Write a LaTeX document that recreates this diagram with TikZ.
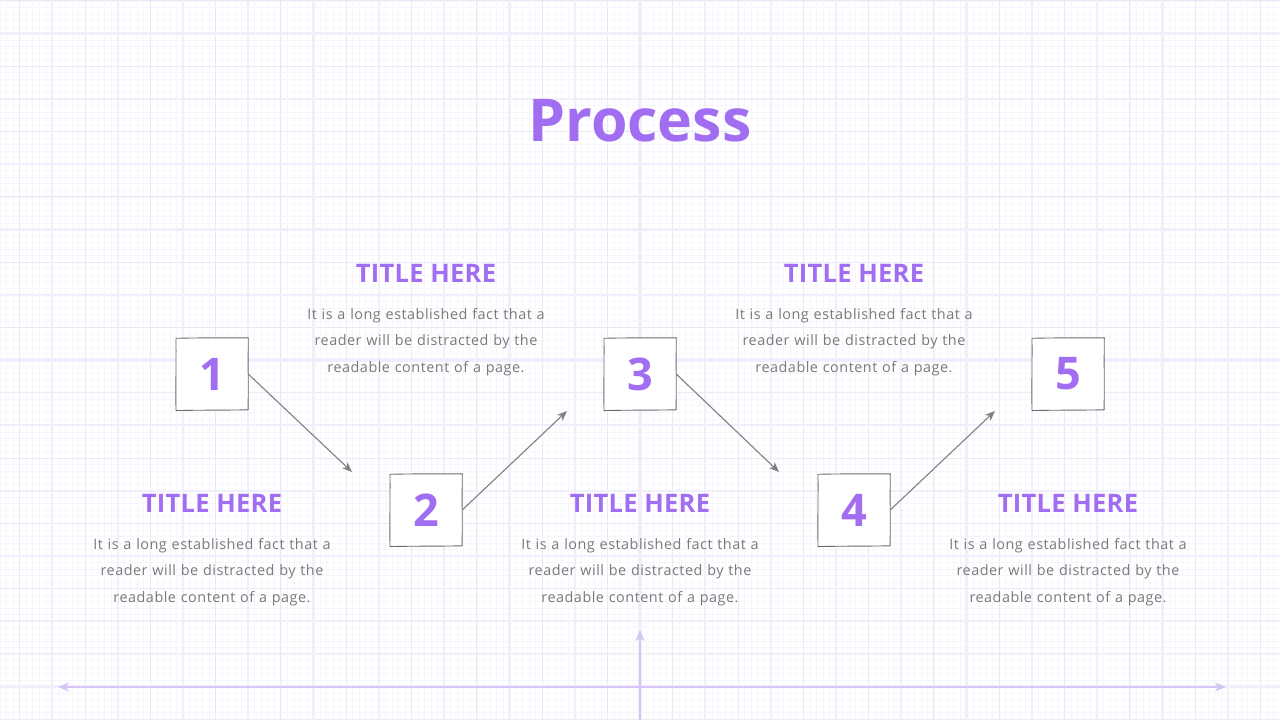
\documentclass[tikz,border=0pt]{standalone}
\usepackage{fontspec}
\setmainfont{Open Sans}
\usetikzlibrary{arrows.meta,calc}
\definecolor{purp}{HTML}{A26EF1}
\definecolor{bodygray}{HTML}{7A7A7A}
\definecolor{finegrid}{HTML}{F7F6FD}
\definecolor{midgrid}{HTML}{EBE9F5}
\definecolor{majgrid}{HTML}{F2EFFD}
\definecolor{axisgrid}{HTML}{F4ECFD}
\definecolor{axiscol}{HTML}{D6C6F8}
\definecolor{boxline}{HTML}{6A6A6A}
\definecolor{conncol}{HTML}{808080}
\tikzset{
  fineline/.style={draw=finegrid, line width=0.5pt},
  midline/.style={draw=midgrid, line width=0.8pt},
  majline/.style={draw=majgrid, line width=2.2pt},
  axline/.style={draw=axisgrid, line width=4pt},
  axisarrow/.style={draw=axiscol, line width=1.3pt},
  numbox/.style={minimum width=72pt, minimum height=72pt, inner sep=0pt, draw=none,
     font=\fontsize{45}{45}\selectfont\bfseries, text=purp},
  handbox/.style={draw=boxline, line width=0.9pt, fill=white, line join=round},
  conn/.style={draw=conncol, line width=1.1pt, -{Stealth[length=10pt,width=8pt,inset=3pt]}},
  ttl/.style={font=\fontsize{25.5}{25.5}\selectfont\bfseries\addfontfeatures{LetterSpace=1}, text=purp, inner sep=0pt},
  bodytext/.style={font=\fontsize{14.4}{26.5}\selectfont\addfontfeatures{LetterSpace=3.5}, text=bodygray, align=center, inner sep=0pt, text width=300pt},
  headline/.style={font=\fontsize{59}{59}\selectfont\bfseries, text=purp, inner sep=0pt}
}
\begin{document}
\begin{tikzpicture}[x=1pt,y=-1pt]
\useasboundingbox (0,0) rectangle (1280,720);
\fill[white] (0,0) rectangle (1280,720);
% fine grid
\foreach \i in {-98,...,98} { \draw[fineline] ({640+\i*6.53},0) -- ++(0,720); }
\foreach \i in {-56,...,56} { \draw[fineline] (0,{360+\i*6.53}) -- ++(1280,0); }
% medium grid
\foreach \i in {-10,...,9} { \draw[midline] ({640+32.65+\i*65.3},0) -- ++(0,720); }
\foreach \i in {-6,...,5} { \draw[midline] (0,{360+32.65+\i*65.3}) -- ++(1280,0); }
% major grid
\foreach \i in {-10,...,10} { \draw[majline] ({640+\i*65.3},0) -- ++(0,720); }
\foreach \i in {-6,...,6} { \draw[majline] (0,{360+\i*65.3}) -- ++(1280,0); }
% central axes
\draw[axline] (640,0) -- (640,720);
\draw[axline] (0,360) -- (1280,360);
% bottom axis arrows
\coordinate (axL) at (58,687);
\coordinate (axR) at (1226,687);
\coordinate (axB) at (640,720);
\coordinate (axT) at (640,630);
\draw[axisarrow, {Stealth[length=11pt,width=9pt,inset=3pt]}-{Stealth[length=11pt,width=9pt,inset=3pt]}] (axL) -- (axR);
\draw[axisarrow, -{Stealth[length=11pt,width=9pt,inset=3pt]}] (axB) -- (axT);

% heading
\node[headline] (head) at (640,121) {Process};

% boxes
\foreach \n/\x/\y in {1/212/374, 2/426/510, 3/640/374, 4/854/510, 5/1068/374} {
  \coordinate (c\n) at (\x,\y);
  \draw[handbox] ($(c\n)+(-36,-35.7)$) .. controls ($(c\n)+(-10,-36.4)$) and ($(c\n)+(15,-35.9)$) .. ($(c\n)+(36.3,-36.2)$)
     .. controls ($(c\n)+(36.0,-12)$) and ($(c\n)+(36.4,14)$) .. ($(c\n)+(36.1,35.8)$)
     .. controls ($(c\n)+(12,36.3)$) and ($(c\n)+(-14,36.0)$) .. ($(c\n)+(-36,36.6)$)
     .. controls ($(c\n)+(-36.3,12)$) and ($(c\n)+(-35.8,-14)$) .. cycle;
  \node[numbox] (b\n) at (c\n) {\n};
}

% connectors
\coordinate (e1) at (352,472);
\coordinate (e2) at (567,411);
\coordinate (e3) at (779,472);
\coordinate (e4) at (995,411);
\draw[conn] (b1.east) -- (e1);
\draw[conn] (b2.east) -- (e2);
\draw[conn] (b3.east) -- (e3);
\draw[conn] (b4.east) -- (e4);

% titles and texts
\node[ttl] (t2) at (426,273) {TITLE HERE};
\node[ttl] (t4) at (854,273) {TITLE HERE};
\node[ttl] (t1) at (212,503) {TITLE HERE};
\node[ttl] (t3) at (640,503) {TITLE HERE};
\node[ttl] (t5) at (1068,503) {TITLE HERE};
\node[bodytext] (d2) at (426,342) {It is a long established fact that a\\reader will be distracted by the\\readable content of a page.};
\node[bodytext] (d4) at (854,342) {It is a long established fact that a\\reader will be distracted by the\\readable content of a page.};
\node[bodytext] (d1) at (212,572) {It is a long established fact that a\\reader will be distracted by the\\readable content of a page.};
\node[bodytext] (d3) at (640,572) {It is a long established fact that a\\reader will be distracted by the\\readable content of a page.};
\node[bodytext] (d5) at (1068,572) {It is a long established fact that a\\reader will be distracted by the\\readable content of a page.};
\end{tikzpicture}
\end{document}
